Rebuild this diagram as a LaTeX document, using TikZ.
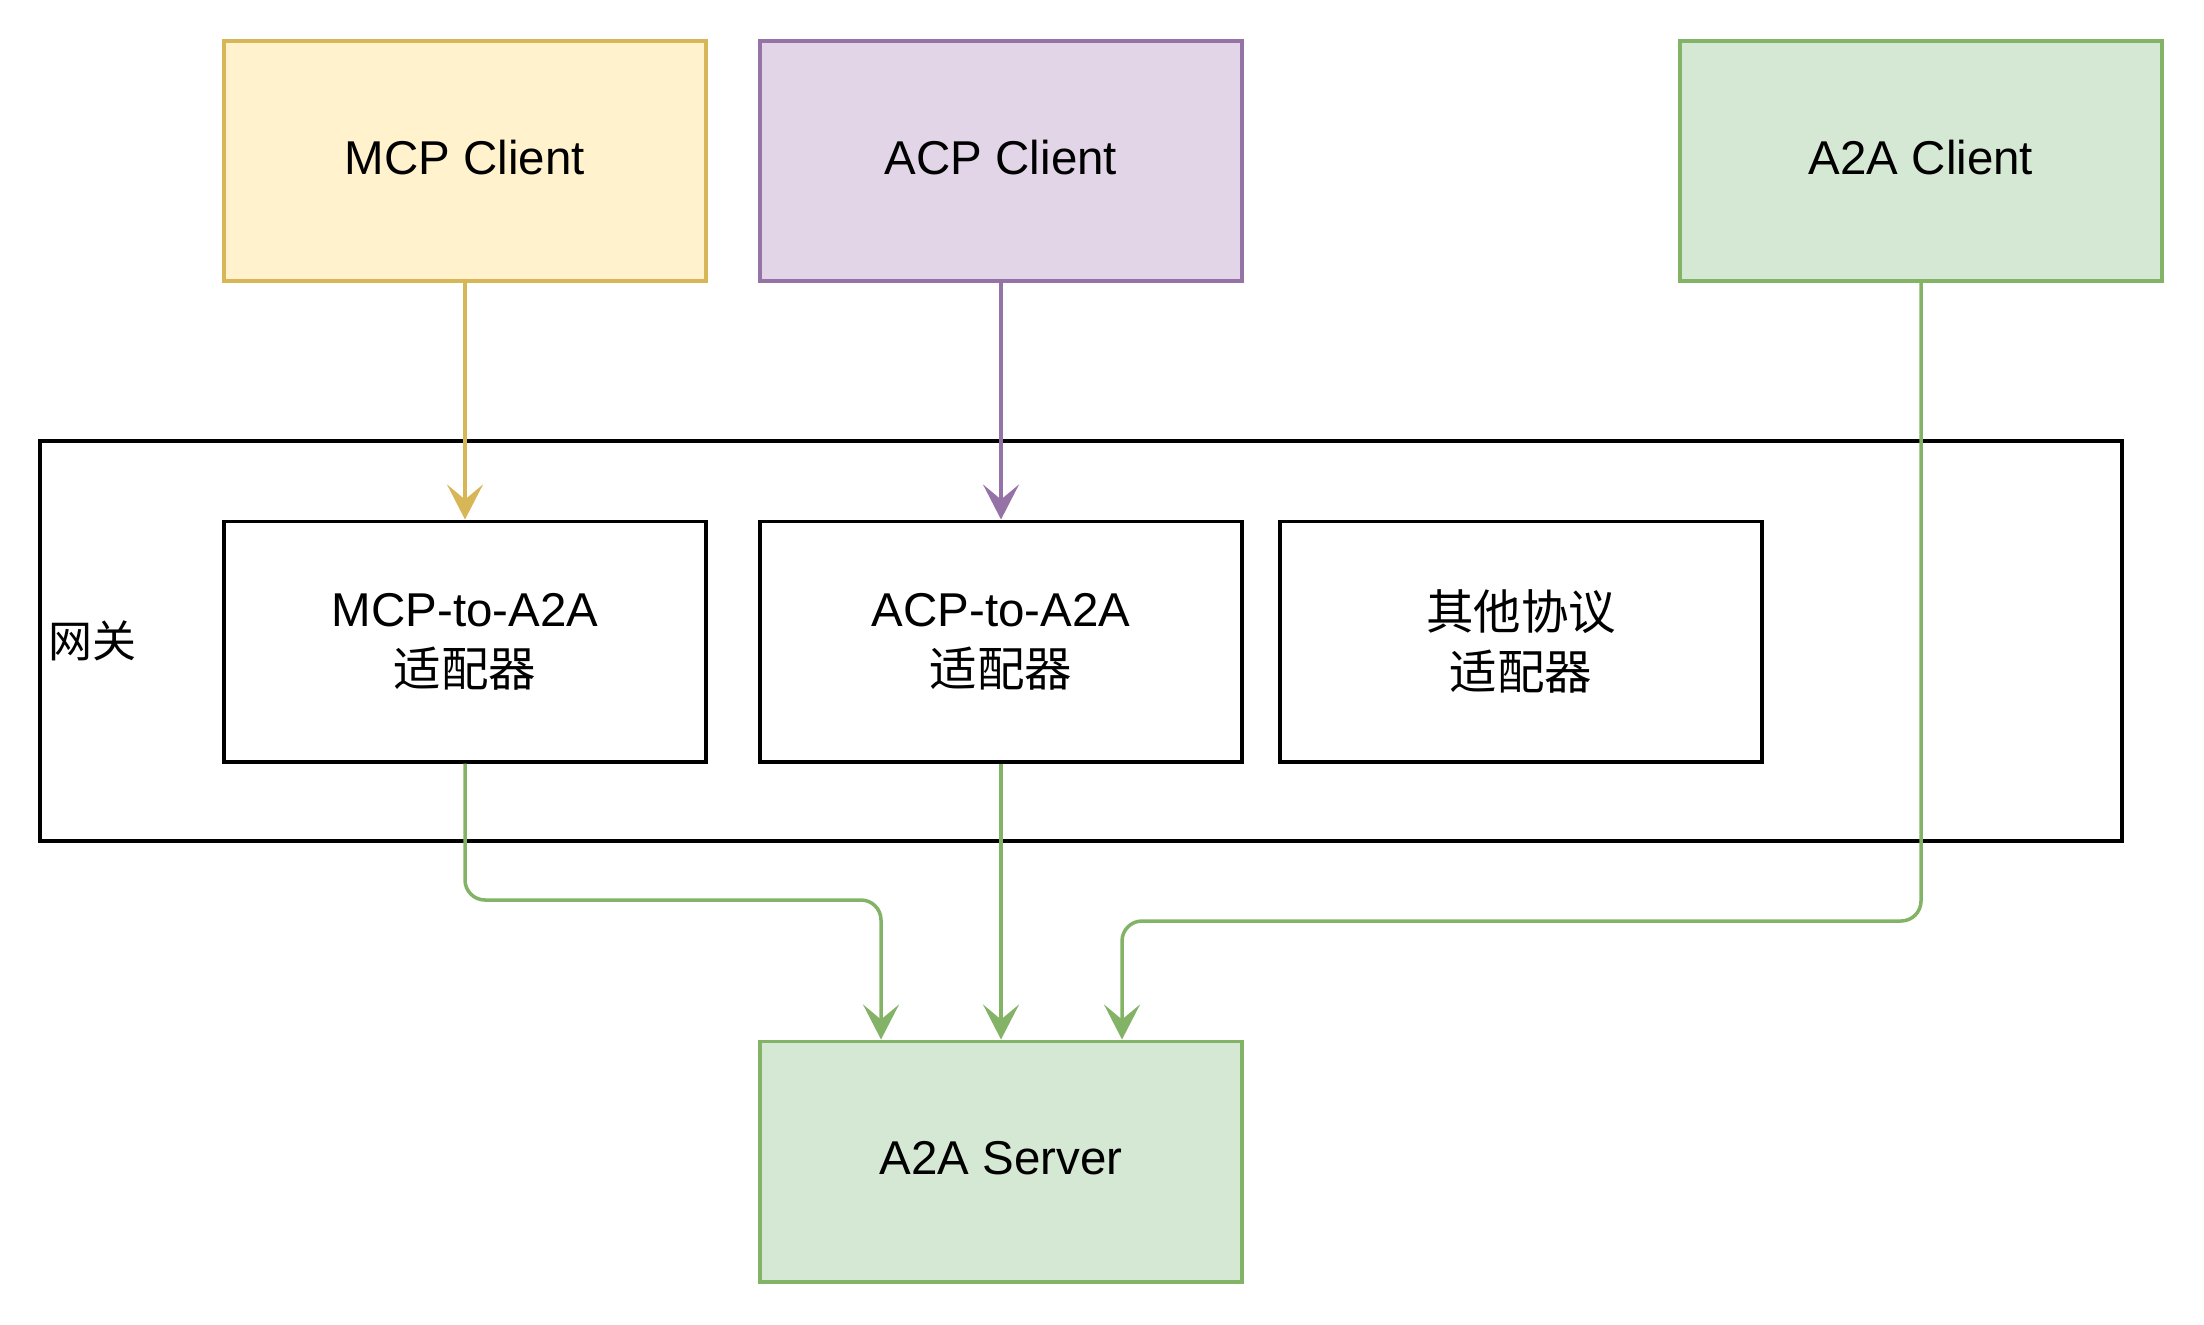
\documentclass[tikz,border=0pt]{standalone}
\usepackage{fontspec}
\setmainfont{Liberation Sans}
\newfontfamily\cjk{Noto Sans CJK SC}
\usetikzlibrary{arrows.meta}
\definecolor{ylwfill}{HTML}{FFF2CC}\definecolor{ylwline}{HTML}{D6B656}
\definecolor{prpfill}{HTML}{E1D5E7}\definecolor{prpline}{HTML}{9673A6}
\definecolor{grnfill}{HTML}{D5E8D4}\definecolor{grnline}{HTML}{82B366}
\begin{document}
\begin{tikzpicture}[x=0.01cm,y=-0.01cm,
  box/.style={draw, line width=1.1pt, minimum width=4.81cm, minimum height=2.40cm,
    inner sep=0pt, align=center, font=\fontsize{13.5}{17}\selectfont},
  adapter/.style={box, draw=black, fill=white},
  conn/.style={line width=1.0pt, rounded corners=0.2cm,
    -{Stealth[length=0.35cm, width=0.36cm, inset=0.15cm]}}]
\useasboundingbox (0,0) rectangle (2204,1324);
% gateway container
\node[draw=black, line width=1.1pt, minimum width=20.80cm, minimum height=3.99cm, inner sep=0pt] (gw) at (1081,641) {};
\node[anchor=west, inner sep=0pt, font=\fontsize{12.5}{15}\selectfont\cjk] (gwl) at (48,641) {网关};
% clients
\node[box, draw=ylwline, fill=ylwfill] (mcp) at (465,161) {\raisebox{2pt}{MCP Client}};
\node[box, draw=prpline, fill=prpfill] (acp) at (1001,161) {\raisebox{2pt}{ACP Client}};
\node[box, draw=grnline, fill=grnfill] (a2ac) at (1921,161) {\raisebox{2pt}{A2A Client}};
% adapters
\node[adapter] (ma) at (465,641.5) {MCP-to-A2A\\{\cjk 适配器}};
\node[adapter] (aa) at (1001,641.5) {ACP-to-A2A\\{\cjk 适配器}};
\node[adapter] (oa) at (1521,641.5) {{\cjk 其他协议}\\{\cjk 适配器}};
% server
\node[box, draw=grnline, fill=grnfill] (sv) at (1001,1161.5) {\raisebox{2pt}{A2A Server}};
% connectors
\draw[conn, draw=ylwline, fill=ylwline] (mcp.south) -- (ma.north);
\draw[conn, draw=prpline, fill=prpline] (acp.south) -- (aa.north);
\coordinate (c1) at (881,900);
\coordinate (c2) at (1122,921);
\draw[conn, draw=grnline] (ma.south) |- (c1) -- (c1 |- sv.north);
\draw[conn, draw=grnline] (aa.south) -- (sv.north);
\draw[conn, draw=grnline] (a2ac.south) |- (c2) -- (c2 |- sv.north);
\end{tikzpicture}
\end{document}
